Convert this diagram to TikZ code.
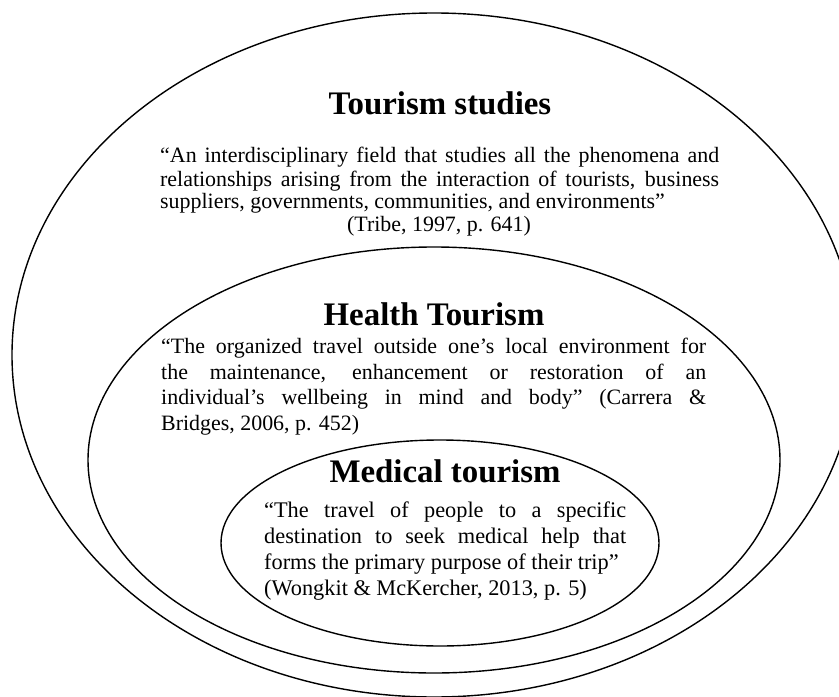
\documentclass[tikz,border=0pt]{standalone}
\usepackage{fontspec}
\setmainfont{Liberation Serif}
\tikzset{
  ring/.style={line width=1.4bp},
  ttl/.style={font=\fontsize{33}{38}\selectfont\bfseries, inner sep=0pt, anchor=base},
  body/.style={font=\fontsize{22}{25}\selectfont, inner sep=0pt, anchor=base west},
  mbody/.style={font=\fontsize{22.4}{26}\selectfont, inner sep=0pt, anchor=base west},
}
\begin{document}
\begin{tikzpicture}[x=1bp,y=-1bp]
\useasboundingbox (0,0) rectangle (839,697);
\begin{scope}
  \clip (0,0) rectangle (839,697);
  \draw[ring] (434,355) ellipse [x radius=422bp, y radius=342bp];
  \draw[ring] (434,460) ellipse [x radius=346bp, y radius=213bp];
  \draw[ring] (440,543) ellipse [x radius=219bp, y radius=103bp];
\end{scope}

\node[ttl] (ts) at (440,115) {Tourism studies};
\node[body] (ts1) at (160,163) {\makebox[559bp][s]{“An interdisciplinary field that studies all the phenomena and}};
\node[body] (ts2) at (160,186) {\makebox[559bp][s]{relationships arising from the interaction of tourists, business}};
\node[body] (ts3) at (160,208) {suppliers, governments, communities, and environments”};
\node[body, anchor=base] (ts4) at (439,231) {(Tribe, 1997, p. 641)};

\node[ttl] (ht) at (434,325) {Health Tourism};
\node[body] (ht1) at (161,353) {\makebox[545bp][s]{“The organized travel outside one’s local environment for}};
\node[body] (ht2) at (161,379) {\makebox[545bp][s]{the maintenance, enhancement or restoration of an}};
\node[body] (ht3) at (161,404) {\makebox[545bp][s]{individual’s wellbeing in mind and body” (Carrera \&}};
\node[body] (ht4) at (161,430) {Bridges, 2006, p. 452)};

\node[ttl] (mt) at (445,482) {Medical tourism};
\node[mbody] (mt1) at (264,517) {\makebox[362bp][s]{“The travel of people to a specific}};
\node[mbody] (mt2) at (264,543) {\makebox[362bp][s]{destination to seek medical help that}};
\node[mbody] (mt3) at (264,569) {forms the primary purpose of their trip”};
\node[mbody] (mt4) at (264,595) {(Wongkit \& McKercher, 2013, p. 5)};
\end{tikzpicture}
\end{document}
